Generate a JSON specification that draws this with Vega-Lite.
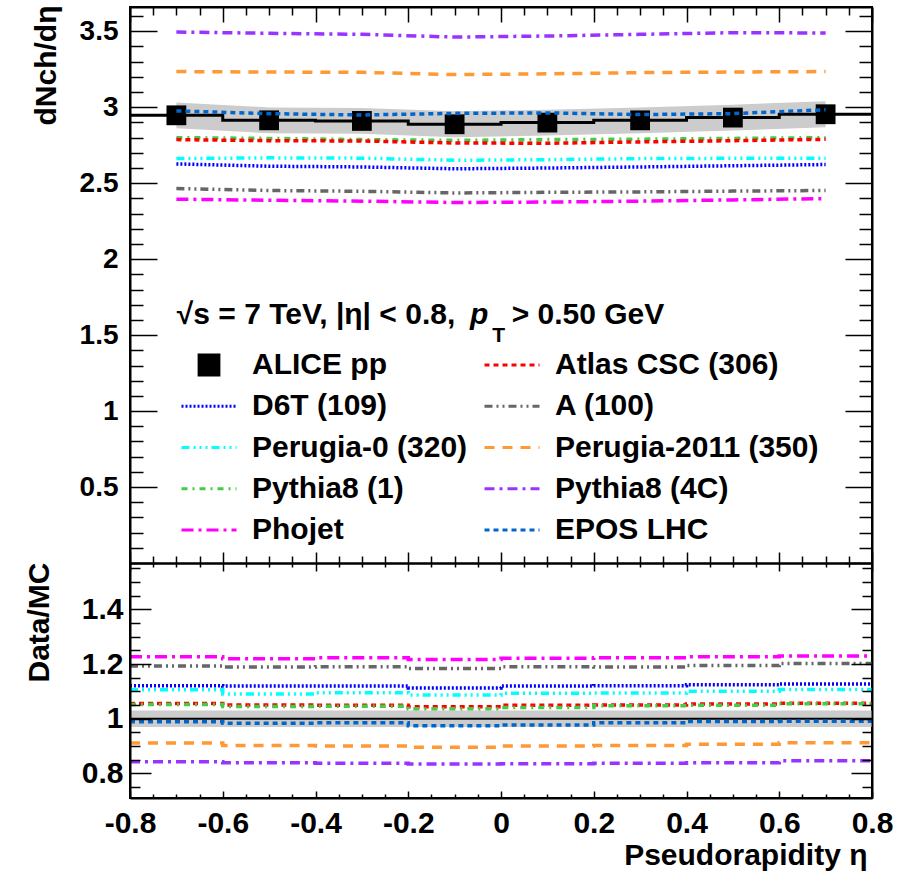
{
  "$schema": "https://vega.github.io/schema/vega-lite/v6.json",
  "autosize": {"type": "none"},
  "padding": {"left": 130, "top": 7, "right": 34, "bottom": 74},
  "width": 742,
  "height": 791,
  "background": "white",
  "config": {
    "view": {"stroke": "black", "strokeWidth": 2},
    "axis": {"grid": false, "domain": true, "ticks": true, "domainColor": "black", "domainWidth": 2, "tickColor": "black", "tickWidth": 1.5, "labelColor": "black", "titleColor": "black", "labelFont": "Liberation Sans", "titleFont": "Liberation Sans", "labelFontWeight": "bold", "titleFontWeight": "bold", "labelOverlap": false, "labelFlush": false}
  },
  "datasets": {
    "alice": [
      {"model": "ALICE pp", "eta": -0.7, "val": 2.947, "lo": 2.862, "hi": 3.032},
      {"model": "ALICE pp", "eta": -0.5, "val": 2.914, "lo": 2.829, "hi": 2.999},
      {"model": "ALICE pp", "eta": -0.3, "val": 2.910, "lo": 2.825, "hi": 2.995},
      {"model": "ALICE pp", "eta": -0.1, "val": 2.888, "lo": 2.803, "hi": 2.973},
      {"model": "ALICE pp", "eta": 0.1, "val": 2.899, "lo": 2.814, "hi": 2.984},
      {"model": "ALICE pp", "eta": 0.3, "val": 2.914, "lo": 2.829, "hi": 2.999},
      {"model": "ALICE pp", "eta": 0.5, "val": 2.932, "lo": 2.847, "hi": 3.017},
      {"model": "ALICE pp", "eta": 0.7, "val": 2.954, "lo": 2.868, "hi": 3.040}
    ],
    "alicestep": [
      {"edge": -0.8, "val": 2.947}, {"edge": -0.6, "val": 2.914}, {"edge": -0.4, "val": 2.910}, {"edge": -0.2, "val": 2.888},
      {"edge": 0.0, "val": 2.899}, {"edge": 0.2, "val": 2.914}, {"edge": 0.4, "val": 2.932}, {"edge": 0.6, "val": 2.954}, {"edge": 0.8, "val": 2.954}
    ],
    "models": [
      {"model": "Pythia8 (4C)", "eta": -0.7, "val": 3.495}, {"model": "Pythia8 (4C)", "eta": -0.5, "val": 3.487}, {"model": "Pythia8 (4C)", "eta": -0.3, "val": 3.480}, {"model": "Pythia8 (4C)", "eta": -0.1, "val": 3.462},
      {"model": "Pythia8 (4C)", "eta": 0.1, "val": 3.469}, {"model": "Pythia8 (4C)", "eta": 0.3, "val": 3.480}, {"model": "Pythia8 (4C)", "eta": 0.5, "val": 3.491}, {"model": "Pythia8 (4C)", "eta": 0.7, "val": 3.489},
      {"model": "Perugia-2011 (350)", "eta": -0.7, "val": 3.235}, {"model": "Perugia-2011 (350)", "eta": -0.5, "val": 3.232}, {"model": "Perugia-2011 (350)", "eta": -0.3, "val": 3.230}, {"model": "Perugia-2011 (350)", "eta": -0.1, "val": 3.215},
      {"model": "Perugia-2011 (350)", "eta": 0.1, "val": 3.220}, {"model": "Perugia-2011 (350)", "eta": 0.3, "val": 3.228}, {"model": "Perugia-2011 (350)", "eta": 0.5, "val": 3.232}, {"model": "Perugia-2011 (350)", "eta": 0.7, "val": 3.235},
      {"model": "Pythia8 (1)", "eta": -0.7, "val": 2.800}, {"model": "Pythia8 (1)", "eta": -0.5, "val": 2.795}, {"model": "Pythia8 (1)", "eta": -0.3, "val": 2.787}, {"model": "Pythia8 (1)", "eta": -0.1, "val": 2.782},
      {"model": "Pythia8 (1)", "eta": 0.1, "val": 2.787}, {"model": "Pythia8 (1)", "eta": 0.3, "val": 2.790}, {"model": "Pythia8 (1)", "eta": 0.5, "val": 2.795}, {"model": "Pythia8 (1)", "eta": 0.7, "val": 2.800},
      {"model": "Atlas CSC (306)", "eta": -0.7, "val": 2.787}, {"model": "Atlas CSC (306)", "eta": -0.5, "val": 2.780}, {"model": "Atlas CSC (306)", "eta": -0.3, "val": 2.778}, {"model": "Atlas CSC (306)", "eta": -0.1, "val": 2.765},
      {"model": "Atlas CSC (306)", "eta": 0.1, "val": 2.763}, {"model": "Atlas CSC (306)", "eta": 0.3, "val": 2.772}, {"model": "Atlas CSC (306)", "eta": 0.5, "val": 2.780}, {"model": "Atlas CSC (306)", "eta": 0.7, "val": 2.789},
      {"model": "Perugia-0 (320)", "eta": -0.7, "val": 2.662}, {"model": "Perugia-0 (320)", "eta": -0.5, "val": 2.667}, {"model": "Perugia-0 (320)", "eta": -0.3, "val": 2.665}, {"model": "Perugia-0 (320)", "eta": -0.1, "val": 2.651},
      {"model": "Perugia-0 (320)", "eta": 0.1, "val": 2.655}, {"model": "Perugia-0 (320)", "eta": 0.3, "val": 2.662}, {"model": "Perugia-0 (320)", "eta": 0.5, "val": 2.664}, {"model": "Perugia-0 (320)", "eta": 0.7, "val": 2.665},
      {"model": "D6T (109)", "eta": -0.7, "val": 2.627}, {"model": "D6T (109)", "eta": -0.5, "val": 2.612}, {"model": "D6T (109)", "eta": -0.3, "val": 2.607}, {"model": "D6T (109)", "eta": -0.1, "val": 2.595},
      {"model": "D6T (109)", "eta": 0.1, "val": 2.600}, {"model": "D6T (109)", "eta": 0.3, "val": 2.607}, {"model": "D6T (109)", "eta": 0.5, "val": 2.615}, {"model": "D6T (109)", "eta": 0.7, "val": 2.623},
      {"model": "A (100)", "eta": -0.7, "val": 2.465}, {"model": "A (100)", "eta": -0.5, "val": 2.452}, {"model": "A (100)", "eta": -0.3, "val": 2.447}, {"model": "A (100)", "eta": -0.1, "val": 2.436},
      {"model": "A (100)", "eta": 0.1, "val": 2.440}, {"model": "A (100)", "eta": 0.3, "val": 2.443}, {"model": "A (100)", "eta": 0.5, "val": 2.448}, {"model": "A (100)", "eta": 0.7, "val": 2.452},
      {"model": "Phojet", "eta": -0.7, "val": 2.395}, {"model": "Phojet", "eta": -0.5, "val": 2.388}, {"model": "Phojet", "eta": -0.3, "val": 2.382}, {"model": "Phojet", "eta": -0.1, "val": 2.373},
      {"model": "Phojet", "eta": 0.1, "val": 2.376}, {"model": "Phojet", "eta": 0.3, "val": 2.382}, {"model": "Phojet", "eta": 0.5, "val": 2.390}, {"model": "Phojet", "eta": 0.7, "val": 2.399},
      {"model": "EPOS LHC", "eta": -0.7, "val": 2.976}, {"model": "EPOS LHC", "eta": -0.5, "val": 2.958}, {"model": "EPOS LHC", "eta": -0.3, "val": 2.949}, {"model": "EPOS LHC", "eta": -0.1, "val": 2.960},
      {"model": "EPOS LHC", "eta": 0.1, "val": 2.963}, {"model": "EPOS LHC", "eta": 0.3, "val": 2.952}, {"model": "EPOS LHC", "eta": 0.5, "val": 2.958}, {"model": "EPOS LHC", "eta": 0.7, "val": 2.984}
    ],
    "ratioband": [
      {"eta": -0.8, "lo": 0.97, "hi": 1.03},
      {"eta": 0.8, "lo": 0.97, "hi": 1.03}
    ],
    "unity": [
      {"eta": -0.8, "r": 1.0},
      {"eta": 0.8, "r": 1.0}
    ],
    "ratios": [
      {"model": "Phojet", "edge": -0.8, "r": 1.227}, {"model": "Phojet", "edge": -0.6, "r": 1.220}, {"model": "Phojet", "edge": -0.4, "r": 1.223}, {"model": "Phojet", "edge": -0.2, "r": 1.217}, {"model": "Phojet", "edge": 0.0, "r": 1.221}, {"model": "Phojet", "edge": 0.2, "r": 1.223}, {"model": "Phojet", "edge": 0.4, "r": 1.227}, {"model": "Phojet", "edge": 0.6, "r": 1.230}, {"model": "Phojet", "edge": 0.8, "r": 1.230},
      {"model": "A (100)", "edge": -0.8, "r": 1.193}, {"model": "A (100)", "edge": -0.6, "r": 1.189}, {"model": "A (100)", "edge": -0.4, "r": 1.190}, {"model": "A (100)", "edge": -0.2, "r": 1.184}, {"model": "A (100)", "edge": 0.0, "r": 1.190}, {"model": "A (100)", "edge": 0.2, "r": 1.189}, {"model": "A (100)", "edge": 0.4, "r": 1.195}, {"model": "A (100)", "edge": 0.6, "r": 1.202}, {"model": "A (100)", "edge": 0.8, "r": 1.202},
      {"model": "D6T (109)", "edge": -0.8, "r": 1.121}, {"model": "D6T (109)", "edge": -0.6, "r": 1.120}, {"model": "D6T (109)", "edge": -0.4, "r": 1.120}, {"model": "D6T (109)", "edge": -0.2, "r": 1.113}, {"model": "D6T (109)", "edge": 0.0, "r": 1.120}, {"model": "D6T (109)", "edge": 0.2, "r": 1.121}, {"model": "D6T (109)", "edge": 0.4, "r": 1.124}, {"model": "D6T (109)", "edge": 0.6, "r": 1.127}, {"model": "D6T (109)", "edge": 0.8, "r": 1.127},
      {"model": "Perugia-0 (320)", "edge": -0.8, "r": 1.106}, {"model": "Perugia-0 (320)", "edge": -0.6, "r": 1.091}, {"model": "Perugia-0 (320)", "edge": -0.4, "r": 1.095}, {"model": "Perugia-0 (320)", "edge": -0.2, "r": 1.087}, {"model": "Perugia-0 (320)", "edge": 0.0, "r": 1.093}, {"model": "Perugia-0 (320)", "edge": 0.2, "r": 1.094}, {"model": "Perugia-0 (320)", "edge": 0.4, "r": 1.101}, {"model": "Perugia-0 (320)", "edge": 0.6, "r": 1.107}, {"model": "Perugia-0 (320)", "edge": 0.8, "r": 1.107},
      {"model": "Atlas CSC (306)", "edge": -0.8, "r": 1.056}, {"model": "Atlas CSC (306)", "edge": -0.6, "r": 1.050}, {"model": "Atlas CSC (306)", "edge": -0.4, "r": 1.049}, {"model": "Atlas CSC (306)", "edge": -0.2, "r": 1.044}, {"model": "Atlas CSC (306)", "edge": 0.0, "r": 1.049}, {"model": "Atlas CSC (306)", "edge": 0.2, "r": 1.050}, {"model": "Atlas CSC (306)", "edge": 0.4, "r": 1.054}, {"model": "Atlas CSC (306)", "edge": 0.6, "r": 1.057}, {"model": "Atlas CSC (306)", "edge": 0.8, "r": 1.057},
      {"model": "Pythia8 (1)", "edge": -0.8, "r": 1.052}, {"model": "Pythia8 (1)", "edge": -0.6, "r": 1.045}, {"model": "Pythia8 (1)", "edge": -0.4, "r": 1.046}, {"model": "Pythia8 (1)", "edge": -0.2, "r": 1.037}, {"model": "Pythia8 (1)", "edge": 0.0, "r": 1.041}, {"model": "Pythia8 (1)", "edge": 0.2, "r": 1.048}, {"model": "Pythia8 (1)", "edge": 0.4, "r": 1.049}, {"model": "Pythia8 (1)", "edge": 0.6, "r": 1.055}, {"model": "Pythia8 (1)", "edge": 0.8, "r": 1.055},
      {"model": "EPOS LHC", "edge": -0.8, "r": 0.989}, {"model": "EPOS LHC", "edge": -0.6, "r": 0.984}, {"model": "EPOS LHC", "edge": -0.4, "r": 0.985}, {"model": "EPOS LHC", "edge": -0.2, "r": 0.974}, {"model": "EPOS LHC", "edge": 0.0, "r": 0.977}, {"model": "EPOS LHC", "edge": 0.2, "r": 0.985}, {"model": "EPOS LHC", "edge": 0.4, "r": 0.990}, {"model": "EPOS LHC", "edge": 0.6, "r": 0.991}, {"model": "EPOS LHC", "edge": 0.8, "r": 0.991},
      {"model": "Perugia-2011 (350)", "edge": -0.8, "r": 0.911}, {"model": "Perugia-2011 (350)", "edge": -0.6, "r": 0.902}, {"model": "Perugia-2011 (350)", "edge": -0.4, "r": 0.900}, {"model": "Perugia-2011 (350)", "edge": -0.2, "r": 0.896}, {"model": "Perugia-2011 (350)", "edge": 0.0, "r": 0.900}, {"model": "Perugia-2011 (350)", "edge": 0.2, "r": 0.902}, {"model": "Perugia-2011 (350)", "edge": 0.4, "r": 0.907}, {"model": "Perugia-2011 (350)", "edge": 0.6, "r": 0.912}, {"model": "Perugia-2011 (350)", "edge": 0.8, "r": 0.912},
      {"model": "Pythia8 (4C)", "edge": -0.8, "r": 0.843}, {"model": "Pythia8 (4C)", "edge": -0.6, "r": 0.839}, {"model": "Pythia8 (4C)", "edge": -0.4, "r": 0.837}, {"model": "Pythia8 (4C)", "edge": -0.2, "r": 0.834}, {"model": "Pythia8 (4C)", "edge": 0.0, "r": 0.835}, {"model": "Pythia8 (4C)", "edge": 0.2, "r": 0.837}, {"model": "Pythia8 (4C)", "edge": 0.4, "r": 0.839}, {"model": "Pythia8 (4C)", "edge": 0.6, "r": 0.846}, {"model": "Pythia8 (4C)", "edge": 0.8, "r": 0.846}
    ],
    "note1": [{"t": "√s = 7 TeV, |η| < 0.8,"}],
    "note2": [{"t": "p"}],
    "note3": [{"t": "T"}],
    "note4": [{"t": "> 0.50 GeV"}]
  },
  "resolve": {"scale": {"y": "independent"}, "axis": {"x": "independent", "y": "independent"}},
  "layer": [
    {
      "resolve": {"axis": {"x": "independent", "y": "independent"}},
      "layer": [
        {
          "data": {"name": "alice"},
          "mark": {"type": "area", "color": "#cccccc", "opacity": 1},
          "encoding": {
            "x": {"field": "eta", "type": "quantitative", "scale": {"domain": [-0.8, 0.8], "nice": false, "zero": false},
              "axis": {"orient": "top", "values": [-0.8,-0.75,-0.7,-0.65,-0.6,-0.55,-0.5,-0.45,-0.4,-0.35,-0.3,-0.25,-0.2,-0.15,-0.1,-0.05,0,0.05,0.1,0.15,0.2,0.25,0.3,0.35,0.4,0.45,0.5,0.55,0.6,0.65,0.7,0.75,0.8],
                "labels": false, "title": null, "zindex": 1,
                "tickSize": {"condition": {"test": "abs(round(datum.value*100)) % 20 == 0", "value": -15}, "value": -8}}},
            "y": {"field": "lo", "type": "quantitative", "scale": {"domain": [0, 3.66], "range": [556, 0], "nice": false, "zero": false},
              "axis": {"orient": "left", "values": [0,0.1,0.2,0.3,0.4,0.5,0.6,0.7,0.8,0.9,1,1.1,1.2,1.3,1.4,1.5,1.6,1.7,1.8,1.9,2,2.1,2.2,2.3,2.4,2.5,2.6,2.7,2.8,2.9,3,3.1,3.2,3.3,3.4,3.5,3.6],
                "labelExpr": "(round(datum.value*10) % 5 == 0 && datum.value > 0) ? format(datum.value, '~g') : ''",
                "labelFontSize": 28, "labelPadding": 39, "zindex": 1,
                "tickSize": {"condition": {"test": "round(datum.value*10) % 5 == 0", "value": -27}, "value": -13},
                "title": "dNch/dη", "titleFontSize": 30, "titleAngle": 270, "titleX": -75, "titleY": -2, "titleAlign": "right", "titleBaseline": "alphabetic"}},
            "y2": {"field": "hi"}
          }
        },
        {
          "data": {"name": "alicestep"},
          "mark": {"type": "line", "color": "black", "strokeWidth": 3, "interpolate": "step-after"},
          "encoding": {
            "x": {"field": "edge", "type": "quantitative",
              "axis": {"orient": "bottom", "offset": -235, "values": [-0.8,-0.75,-0.7,-0.65,-0.6,-0.55,-0.5,-0.45,-0.4,-0.35,-0.3,-0.25,-0.2,-0.15,-0.1,-0.05,0,0.05,0.1,0.15,0.2,0.25,0.3,0.35,0.4,0.45,0.5,0.55,0.6,0.65,0.7,0.75,0.8],
                "labels": false, "title": null, "zindex": 1,
                "tickSize": {"condition": {"test": "abs(round(datum.value*100)) % 20 == 0", "value": -11}, "value": -7}}},
            "y": {"field": "val", "type": "quantitative",
              "axis": {"orient": "right", "values": [0,0.1,0.2,0.3,0.4,0.5,0.6,0.7,0.8,0.9,1,1.1,1.2,1.3,1.4,1.5,1.6,1.7,1.8,1.9,2,2.1,2.2,2.3,2.4,2.5,2.6,2.7,2.8,2.9,3,3.1,3.2,3.3,3.4,3.5,3.6],
                "labels": false, "title": null, "zindex": 1,
                "tickSize": {"condition": {"test": "round(datum.value*10) % 5 == 0", "value": -27}, "value": -13}}}
          }
        },
        {
          "data": {"name": "alice"},
          "mark": {"type": "point", "filled": true, "size": 3025, "opacity": 1},
          "encoding": {
            "x": {"field": "eta", "type": "quantitative", "axis": null},
            "y": {"field": "val", "type": "quantitative", "axis": null},
            "shape": {"field": "model", "type": "nominal", "legend": null,
              "scale": {"domain": ["ALICE pp","Atlas CSC (306)","D6T (109)","A (100)","Perugia-0 (320)","Perugia-2011 (350)","Pythia8 (1)","Pythia8 (4C)","Phojet","EPOS LHC"],
                "range": ["M-0.36,-0.36H0.36V0.36H-0.36Z","M-1,0H1","M-1,0H1","M-1,0H1","M-1,0H1","M-1,0H1","M-1,0H1","M-1,0H1","M-1,0H1","M-1,0H1"]}},
            "color": {"field": "model", "type": "nominal"}
          }
        },
        {
          "data": {"name": "models"},
          "mark": {"type": "line", "strokeWidth": 3.5},
          "encoding": {
            "x": {"field": "eta", "type": "quantitative", "axis": null},
            "y": {"field": "val", "type": "quantitative", "axis": null},
            "color": {"field": "model", "type": "nominal",
              "scale": {"domain": ["ALICE pp","Atlas CSC (306)","D6T (109)","A (100)","Perugia-0 (320)","Perugia-2011 (350)","Pythia8 (1)","Pythia8 (4C)","Phojet","EPOS LHC"],
                "range": ["#000000","#ff0000","#0000ff","#666666","#00ffff","#ff9933","#44cc44","#9933ff","#ff00ff","#0066cc"]},
              "legend": {"orient": "none", "legendX": 50, "legendY": 343, "columns": 2, "direction": "horizontal", "title": null,
                "symbolSize": 3025, "symbolStrokeWidth": 3, "labelFont": "Liberation Sans", "labelFontWeight": "bold", "labelFontSize": 30,
                "labelColor": "black", "labelOffset": 14, "columnPadding": 15, "rowPadding": 11.25, "clipHeight": 30, "labelLimit": 400, "labelBaseline": "middle",
                "encode": {"symbols": {"update": {
                  "shape": {"scale": "shape", "field": "value"},
                  "strokeDash": {"scale": "strokeDash", "field": "value"},
                  "stroke": {"scale": "color", "field": "value"},
                  "fill": {"scale": "color", "field": "value"},
                  "strokeWidth": {"value": 3},
                  "size": {"value": 3025},
                  "opacity": {"value": 1}}}}}},
            "strokeDash": {"field": "model", "type": "nominal", "legend": null,
              "scale": {"domain": ["ALICE pp","Atlas CSC (306)","D6T (109)","A (100)","Perugia-0 (320)","Perugia-2011 (350)","Pythia8 (1)","Pythia8 (4C)","Phojet","EPOS LHC"],
                "range": [[1,0],[5,4],[2,2],[8,4,2,4,2,4],[8,4,2,4,2,4,2,4],[10,8],[6,5,2,5],[10,5,3,5],[12,5,3,5],[5,4]]}}
          }
        },
        {
          "data": {"name": "note1"},
          "mark": {"type": "text", "align": "left", "baseline": "alphabetic", "font": "Liberation Sans", "fontWeight": "bold", "fontSize": 30, "color": "black"},
          "encoding": {"x": {"datum": -0.699, "type": "quantitative", "axis": null}, "y": {"datum": 1.573, "type": "quantitative", "axis": null}, "text": {"field": "t"}}
        },
        {
          "data": {"name": "note2"},
          "mark": {"type": "text", "align": "left", "baseline": "alphabetic", "font": "Liberation Sans", "fontWeight": "bold", "fontStyle": "italic", "fontSize": 30, "color": "black"},
          "encoding": {"x": {"datum": -0.067, "type": "quantitative", "axis": null}, "y": {"datum": 1.573, "type": "quantitative", "axis": null}, "text": {"field": "t"}}
        },
        {
          "data": {"name": "note3"},
          "mark": {"type": "text", "align": "left", "baseline": "alphabetic", "font": "Liberation Sans", "fontWeight": "bold", "fontSize": 21, "color": "black"},
          "encoding": {"x": {"datum": -0.019, "type": "quantitative", "axis": null}, "y": {"datum": 1.455, "type": "quantitative", "axis": null}, "text": {"field": "t"}}
        },
        {
          "data": {"name": "note4"},
          "mark": {"type": "text", "align": "left", "baseline": "alphabetic", "font": "Liberation Sans", "fontWeight": "bold", "fontSize": 30, "color": "black"},
          "encoding": {"x": {"datum": 0.023, "type": "quantitative", "axis": null}, "y": {"datum": 1.573, "type": "quantitative", "axis": null}, "text": {"field": "t"}}
        }
      ]
    },
    {
      "resolve": {"axis": {"x": "independent", "y": "independent"}},
      "layer": [
        {
          "data": {"name": "ratioband"},
          "mark": {"type": "area", "color": "#cccccc", "opacity": 1},
          "encoding": {
            "x": {"field": "eta", "type": "quantitative",
              "axis": {"orient": "top", "offset": -556, "values": [-0.8,-0.75,-0.7,-0.65,-0.6,-0.55,-0.5,-0.45,-0.4,-0.35,-0.3,-0.25,-0.2,-0.15,-0.1,-0.05,0,0.05,0.1,0.15,0.2,0.25,0.3,0.35,0.4,0.45,0.5,0.55,0.6,0.65,0.7,0.75,0.8],
                "labels": false, "title": null, "zindex": 1,
                "tickSize": {"condition": {"test": "abs(round(datum.value*100)) % 20 == 0", "value": -8}, "value": -4}}},
            "y": {"field": "lo", "type": "quantitative", "scale": {"domain": [0.71, 1.57], "range": [791, 556], "nice": false, "zero": false},
              "axis": {"orient": "left", "values": [0.75,0.8,0.85,0.9,0.95,1,1.05,1.1,1.15,1.2,1.25,1.3,1.35,1.4,1.45,1.5,1.55],
                "labelExpr": "round(datum.value*100) % 20 == 0 ? format(datum.value, '~g') : ''",
                "labelFontSize": 30, "labelPadding": 28, "zindex": 1,
                "tickSize": {"condition": {"test": "round(datum.value*100) % 20 == 0", "value": -21}, "value": -10},
                "title": "Data/MC", "titleFontSize": 30, "titleAngle": 270, "titleX": -82, "titleY": 555, "titleAlign": "right", "titleBaseline": "alphabetic"}},
            "y2": {"field": "hi"}
          }
        },
        {
          "data": {"name": "unity"},
          "mark": {"type": "line", "color": "black", "strokeWidth": 2},
          "encoding": {
            "x": {"field": "eta", "type": "quantitative",
              "axis": {"orient": "bottom", "values": [-0.8,-0.75,-0.7,-0.65,-0.6,-0.55,-0.5,-0.45,-0.4,-0.35,-0.3,-0.25,-0.2,-0.15,-0.1,-0.05,0,0.05,0.1,0.15,0.2,0.25,0.3,0.35,0.4,0.45,0.5,0.55,0.6,0.65,0.7,0.75,0.8],
                "labelExpr": "abs(round(datum.value*100)) % 20 == 0 ? (datum.value < 0 ? '-' : '') + format(abs(datum.value), '~g') : ''",
                "labelFontSize": 30, "labelPadding": 17, "zindex": 1,
                "tickSize": {"condition": {"test": "abs(round(datum.value*100)) % 20 == 0", "value": -7}, "value": -4},
                "title": "Pseudorapidity η", "titleFontSize": 30, "titleX": 737, "titleY": 66, "titleAlign": "right", "titleBaseline": "alphabetic"}},
            "y": {"field": "r", "type": "quantitative",
              "axis": {"orient": "right", "values": [0.75,0.8,0.85,0.9,0.95,1,1.05,1.1,1.15,1.2,1.25,1.3,1.35,1.4,1.45,1.5,1.55],
                "labels": false, "title": null, "zindex": 1,
                "tickSize": {"condition": {"test": "round(datum.value*100) % 20 == 0", "value": -21}, "value": -10}}}
          }
        },
        {
          "data": {"name": "ratios"},
          "mark": {"type": "line", "strokeWidth": 3.5, "interpolate": "step-after"},
          "encoding": {
            "x": {"field": "edge", "type": "quantitative", "axis": null},
            "y": {"field": "r", "type": "quantitative", "axis": null},
            "color": {"field": "model", "type": "nominal"},
            "strokeDash": {"field": "model", "type": "nominal", "legend": null}
          }
        }
      ]
    }
  ]
}
